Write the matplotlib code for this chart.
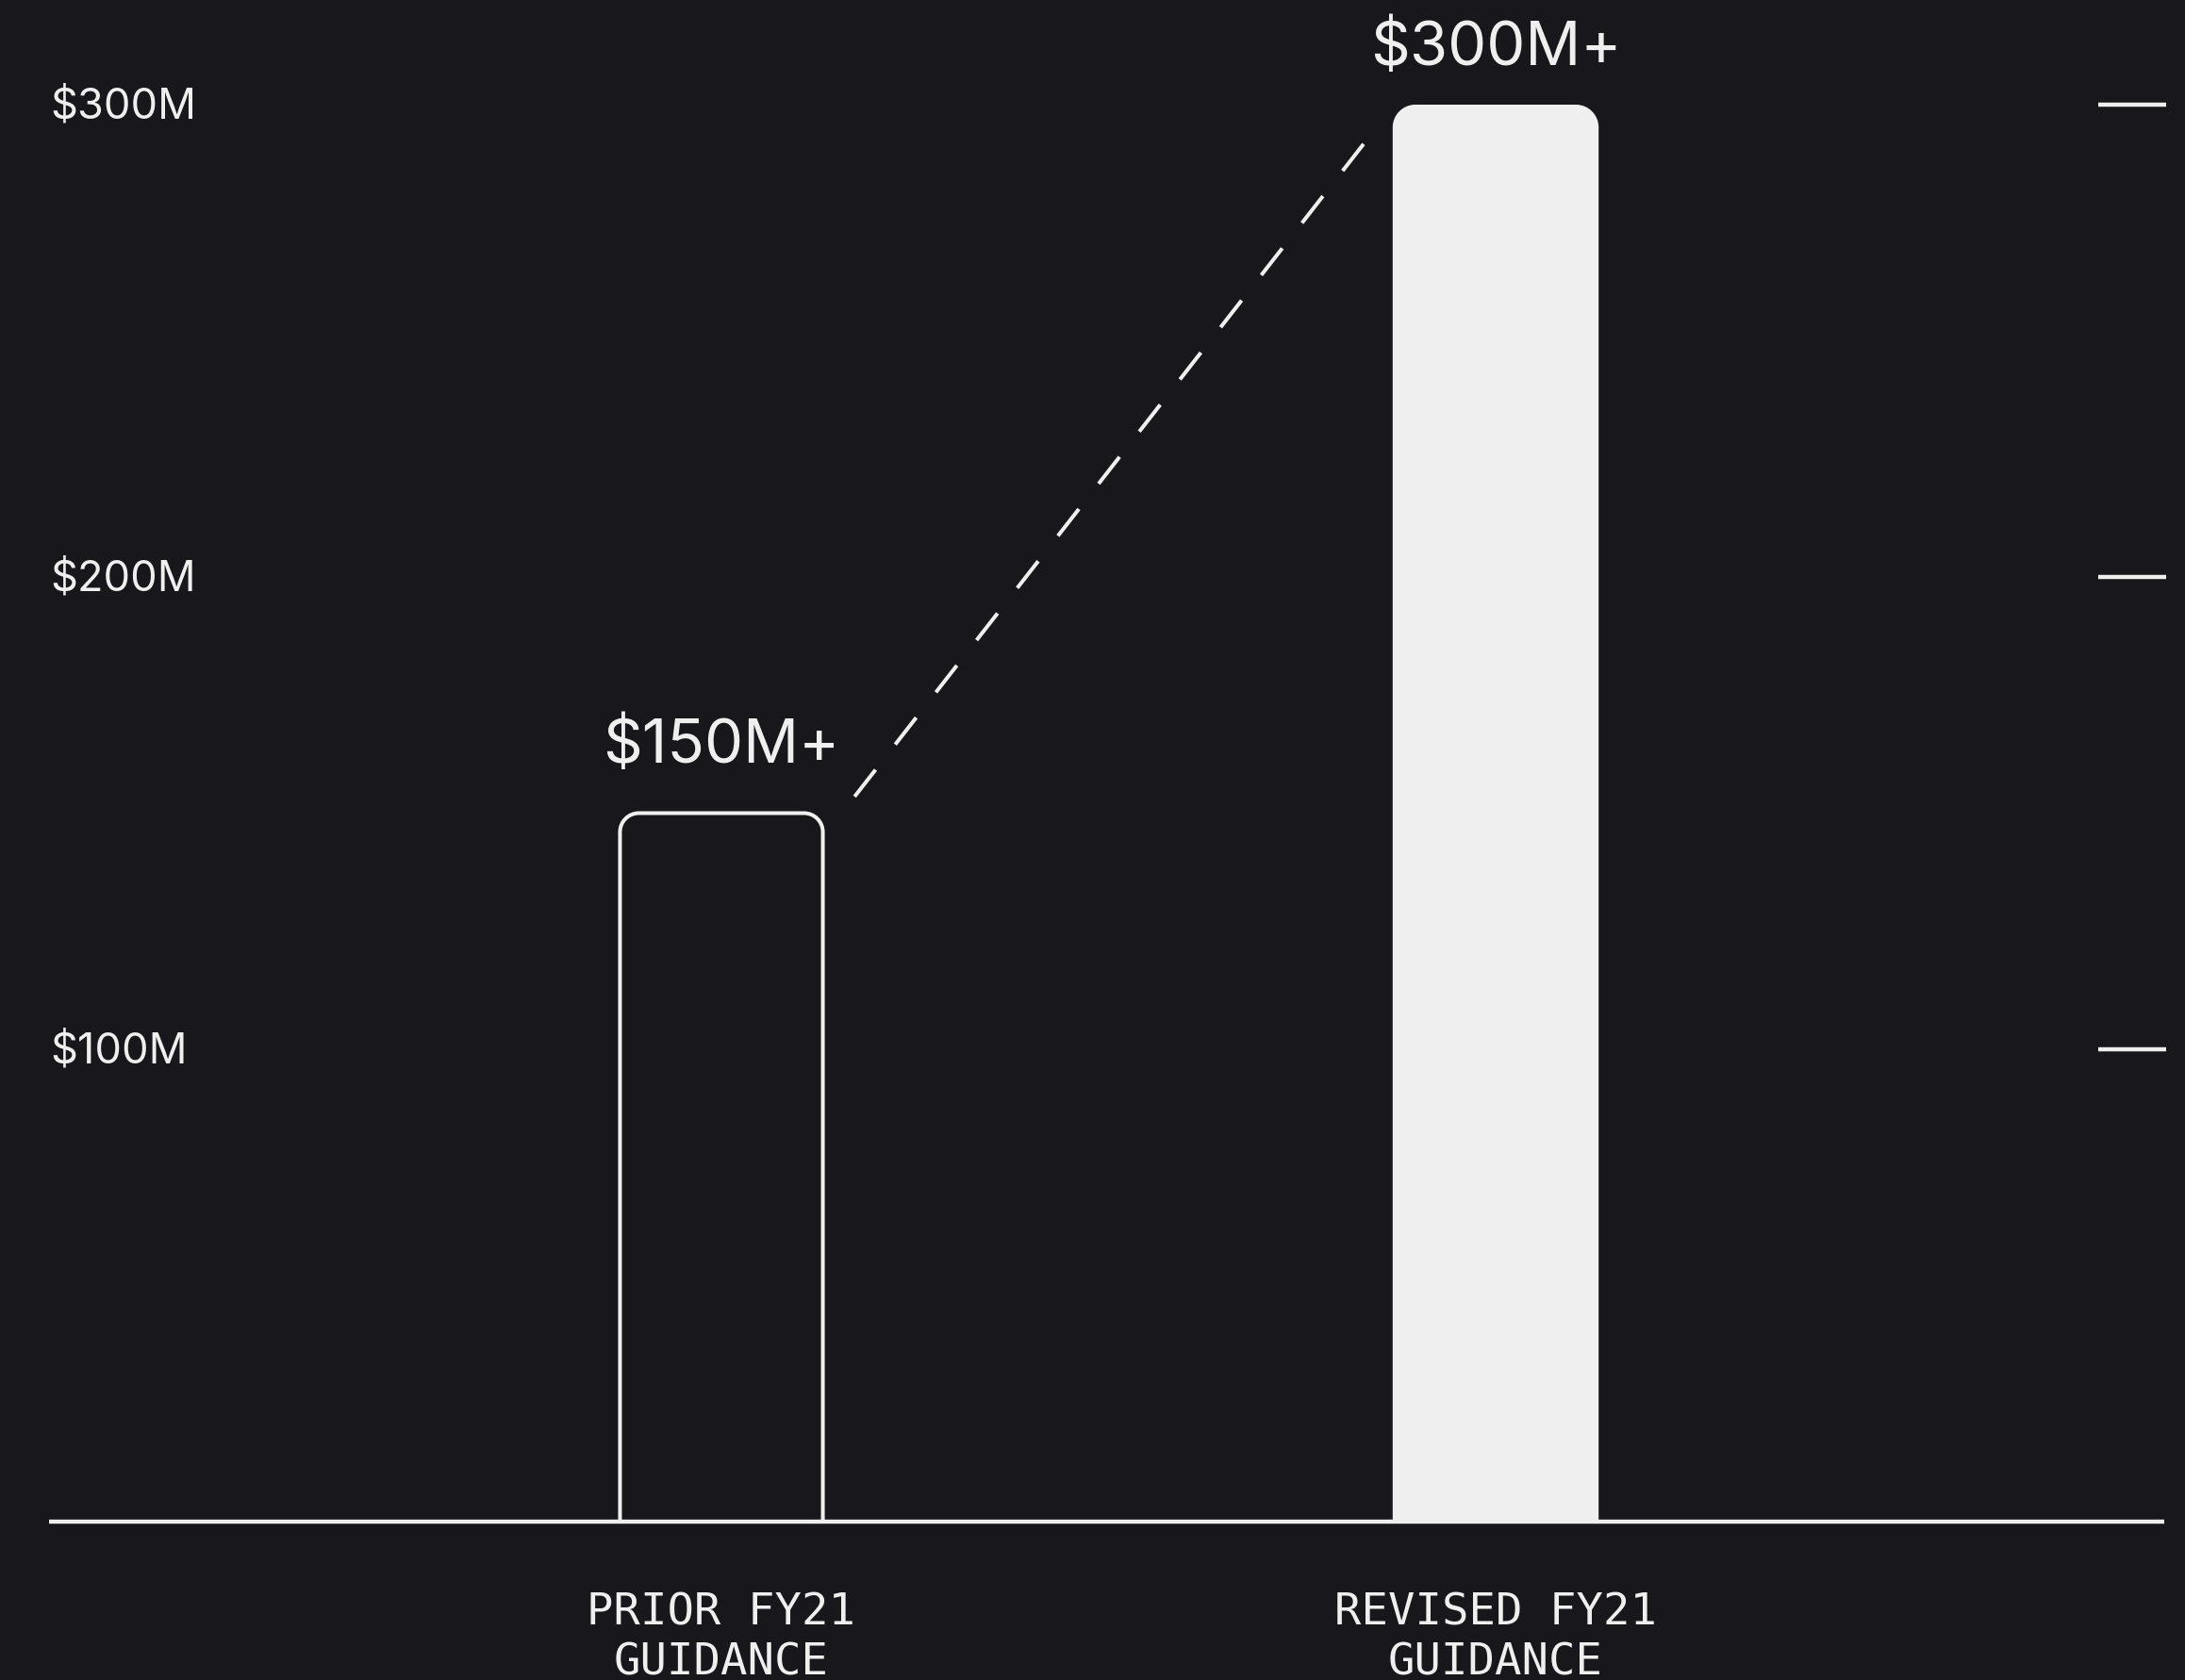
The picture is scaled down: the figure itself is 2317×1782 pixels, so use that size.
import matplotlib
matplotlib.use("Agg")
import matplotlib.pyplot as plt
from matplotlib.path import Path
from matplotlib.patches import PathPatch

# data
categories = ["PRIOR FY21\nGUIDANCE", "REVISED FY21\nGUIDANCE"]
values = [150, 300]
value_labels = ["$150M+", "$300M+"]
tick_values = [100, 200, 300]
tick_labels = ["$100M", "$200M", "$300M"]

BG = "#17171c"
FG = "#efefef"
dpi = 100
W, H = 2317, 1783

fig = plt.figure(figsize=(W / dpi, H / dpi), dpi=dpi, facecolor=BG)
ax = fig.add_axes([0, 0, 1, 1])
ax.set_facecolor(BG)
ax.axis("off")

# pixel mapping: x=0 at 765px, 821px per category; y=0 at 1615px, 5.01px per $1M
xppu, yppu = 821.0, 5.01
ax.set_xlim(-765 / xppu, (W - 765) / xppu)
ax.set_ylim(-(H - 1615) / yppu, 1615 / yppu)


def rounded_top_bar(x, h, w, r_px, closed, **kw):
    rx, ry = r_px / xppu, r_px / yppu
    k = 0.5523
    l, r = x - w / 2, x + w / 2
    verts = [(l, 0), (l, h - ry),
             (l, h - ry + k * ry), (l + rx - k * rx, h), (l + rx, h),
             (r - rx, h),
             (r - rx + k * rx, h), (r, h - ry + k * ry), (r, h - ry),
             (r, 0)]
    codes = [Path.MOVETO, Path.LINETO,
             Path.CURVE4, Path.CURVE4, Path.CURVE4,
             Path.LINETO,
             Path.CURVE4, Path.CURVE4, Path.CURVE4,
             Path.LINETO]
    if closed:
        verts.append((l, 0))
        codes.append(Path.CLOSEPOLY)
    ax.add_patch(PathPatch(Path(verts, codes), **kw))


# prior guidance: outline bar, revised: filled bar
rounded_top_bar(0, values[0], 0.262, 20, False, facecolor="none",
                edgecolor=FG, linewidth=2.9, capstyle="butt", zorder=2)
rounded_top_bar(1, values[1], 0.266, 24, True, facecolor=FG,
                edgecolor="none", zorder=2)

# baseline
ax.plot([(52 - 765) / xppu, (2295 - 765) / xppu], [0, 0], color=FG,
        linewidth=3.2, solid_capstyle="butt", zorder=3)

# dashed connector
lw = 2.9
ax.plot([0.172, 0.831], [153.5, 292], color=FG, linewidth=lw,
        linestyle=(0, (26 / lw, 24.5 / lw)), dash_capstyle="butt", zorder=2)

# value labels
label_offsets = [39, 31]
for i, (v, lab) in enumerate(zip(values, value_labels)):
    ax.annotate(lab, xy=(i, v), xytext=(0, label_offsets[i]),
                textcoords="offset points", ha="center", va="baseline",
                color=FG, fontsize=47, family=["Inter", "DejaVu Sans"])

# y labels on the left, tick marks on the right
for v, lab in zip(tick_values, tick_labels):
    ax.annotate(lab, xy=((53 - 765) / xppu, v), xytext=(0, -10),
                textcoords="offset points", ha="left", va="baseline",
                color=FG, fontsize=32.5, family=["Inter", "DejaVu Sans"])
    ax.plot([(2225 - 765) / xppu, (2297 - 765) / xppu], [v, v], color=FG,
            linewidth=3.2, solid_capstyle="butt")

# category labels
for i, cat in enumerate(categories):
    ax.annotate(cat, xy=(i, 0), xytext=(0, -116), textcoords="offset points",
                ha="center", va="baseline", color=FG, fontsize=34,
                linespacing=1.23, family=["DejaVu Sans Mono"])

fig.savefig("out.png", dpi=dpi, facecolor=BG)
